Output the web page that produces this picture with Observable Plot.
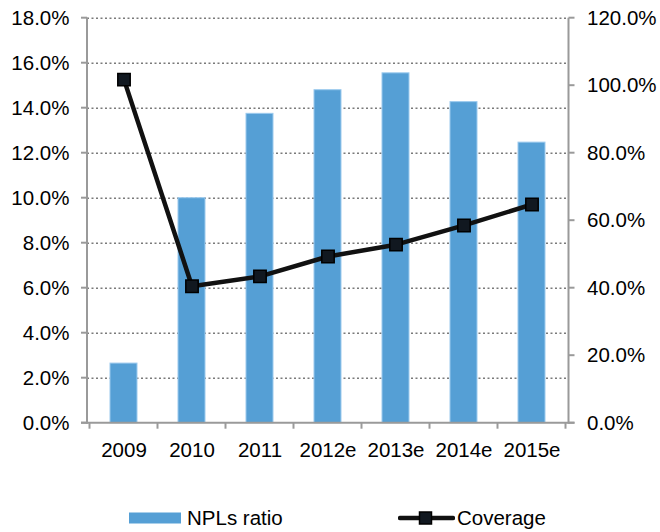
<!DOCTYPE html>
<html>
<head>
<meta charset="utf-8">
<script src="https://cdn.jsdelivr.net/npm/d3@7"></script>
<script src="https://cdn.jsdelivr.net/npm/@observablehq/plot@0.6"></script>
<style>
  html, body { margin: 0; padding: 0; background: #fff; }
  #wrap { position: relative; width: 660px; height: 532px; font-family: "Liberation Sans", Arial, sans-serif; }
  #legend { position: absolute; left: 0; top: 490px; width: 660px; height: 42px; font-size: 20.5px; color: #000; }
  .item { position: absolute; top: 16px; height: 24px; display: flex; align-items: center; }
</style>
</head>
<body>
<div id="wrap"><div id="chart"></div><div id="legend"></div></div>
<script>
const categories = ["2009", "2010", "2011", "2012e", "2013e", "2014e", "2015e"];
const nplRatio = [2.65, 10.0, 13.75, 14.8, 15.55, 14.27, 12.47];   // % (left axis)
const coverage = [101.8, 40.6, 43.5, 49.4, 52.9, 58.6, 64.8];      // % (right axis)
const leftTicks = [0, 2, 4, 6, 8, 10, 12, 14, 16, 18];
const rightTicks = [0, 20, 40, 60, 80, 100, 120];
const seriesNames = ["NPLs ratio", "Coverage"];

const leftMax = 18, rightMax = 120;
const k = leftMax / rightMax;

const rows = categories.map((c, i) => ({cat: c, npl: nplRatio[i], cov: coverage[i] * k}));

const axisColor = "#9a9a9a";

function frameAndTicks(...args) {
  const scales = args.find(a => a && typeof a.x === "function");
  const dims = args.find(a => a && typeof a === "object" && "marginLeft" in a && "width" in a);
  const x = scales.x, y = scales.y;
  const left = dims.marginLeft, right = dims.width - dims.marginRight;
  const bottom = dims.height - dims.marginBottom, top = dims.marginTop;
  const g = d3.create("svg:g").attr("stroke", axisColor).attr("stroke-width", 2).attr("fill", "none");
  g.append("line").attr("x1", left).attr("x2", left).attr("y1", top).attr("y2", bottom + 1);
  g.append("line").attr("x1", right).attr("x2", right).attr("y1", top).attr("y2", bottom + 1);
  g.append("line").attr("x1", left - 6).attr("x2", right + 6).attr("y1", bottom).attr("y2", bottom);
  const bw = x.bandwidth ? x.bandwidth() : 0;
  const step = x(categories[1]) - x(categories[0]);
  const bounds = categories.map(c => x(c) + bw / 2 - step / 2).concat([x(categories[categories.length - 1]) + bw / 2 + step / 2]);
  bounds.forEach(b => g.append("line").attr("x1", b).attr("x2", b).attr("y1", bottom).attr("y2", bottom + 6));
  leftTicks.forEach(t => g.append("line").attr("x1", left - 6).attr("x2", left).attr("y1", y(t)).attr("y2", y(t)));
  rightTicks.forEach(t => g.append("line").attr("x1", right).attr("x2", right + 6).attr("y1", y(t * k)).attr("y2", y(t * k)));
  return g.node();
}

const plot = Plot.plot({
  width: 660,
  height: 490,
  marginLeft: 87,
  marginRight: 91.5,
  marginTop: 17.7,
  marginBottom: 67.3,
  style: {fontFamily: "'Liberation Sans', Arial, sans-serif", fontSize: "20px", color: "#000", background: "#fff"},
  x: {type: "band", domain: categories, paddingInner: 0.6, paddingOuter: 0.3, label: null},
  y: {domain: [0, leftMax], label: null},
  marks: [
    Plot.gridY(leftTicks.filter(d => d > 0), {stroke: "#7a7a7a", strokeOpacity: 1, strokeWidth: 1.5, strokeDasharray: "2,2.5"}),
    Plot.barY(rows, {x: "cat", y: "npl", fill: "#559FD5", stroke: "#9ccaee", strokeWidth: 1}),
    Plot.line(rows, {x: "cat", y: "cov", stroke: "#111", strokeWidth: 4.5}),
    Plot.dot(rows, {x: "cat", y: "cov", symbol: "square", r: 7, fill: "#111820", stroke: "#000", strokeWidth: 1.5}),
    frameAndTicks,
    Plot.axisY({ticks: leftTicks, anchor: "left", tickSize: 0, tickPadding: 18, tickFormat: d => d.toFixed(1) + "%", label: null, fontSize: 20.5}),
    Plot.axisY(rightTicks.map(t => t * k), {anchor: "right", tickSize: 0, tickPadding: 18, tickFormat: d => (d / k).toFixed(1) + "%", label: null, fontSize: 20.5}),
    Plot.axisX({anchor: "bottom", tickSize: 0, tickPadding: 19, label: null, fontSize: 20.5})
  ]
});
document.getElementById("chart").appendChild(plot);

const legend = document.getElementById("legend");
legend.innerHTML = `
  <div class="item" style="left:129px">
    <svg width="52" height="12" style="margin-right:6px"><rect x="0" y="0.5" width="52" height="11" fill="#559FD5"/></svg>
    <span>${seriesNames[0]}</span>
  </div>
  <div class="item" style="left:398px">
    <svg width="57" height="16" style="margin-right:2px"><line x1="2" x2="55" y1="8" y2="8" stroke="#111" stroke-width="4.5" stroke-linecap="round"/><rect x="21.5" y="2" width="12" height="12" fill="#111820" stroke="#000" stroke-width="1.5"/></svg>
    <span>${seriesNames[1]}</span>
  </div>`;
</script>
</body>
</html>
